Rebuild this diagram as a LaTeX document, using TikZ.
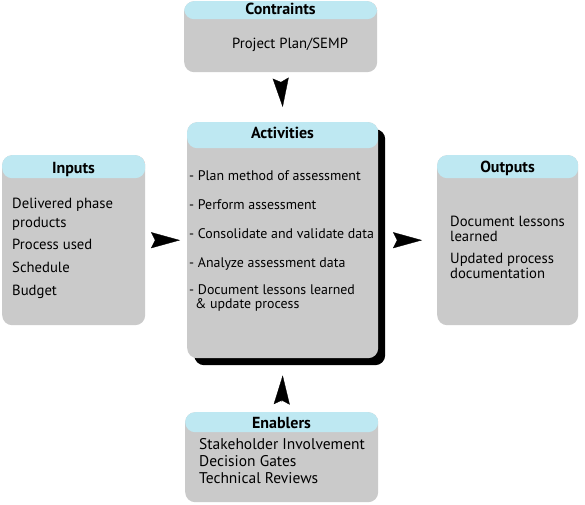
\documentclass[tikz,border=0pt]{standalone}
\usepackage{fontspec}
\setmainfont{PT Sans}
\usetikzlibrary{arrows.meta,shadows}
\definecolor{headc}{RGB}{190,232,242}
\definecolor{bodyc}{RGB}{202,202,202}
\begin{document}
\begin{tikzpicture}[x=1pt,y=-1pt,
  box/.style={rounded corners=10pt, fill=bodyc, draw=none, inner sep=0pt, anchor=north west,
    path picture={\fill[headc] (path picture bounding box.north west) rectangle ([yshift=-#1]path picture bounding box.north east);}},
  txt/.style={inner sep=0pt, anchor=base west, font=\fontsize{14.7}{16}\selectfont},
  acttxt/.style={txt, font=\fontsize{13.9}{16}\selectfont},
  enatxt/.style={txt, font=\fontsize{15.5}{17}\selectfont},
  head/.style={inner sep=0pt, anchor=base, font=\fontsize{16}{18}\selectfont\bfseries},
  tip/.style={line width=0.3pt, shorten <=4pt, -{Stealth[length=29pt,width=16pt,inset=4pt]}}
]
\useasboundingbox (0,0) rectangle (585,504);
% boxes
\node[box=18pt, minimum width=193pt, minimum height=71pt] (con) at (184,1) {};
\node[box=26pt, minimum width=191pt, minimum height=236pt,
  drop shadow={shadow xshift=7pt, shadow yshift=-7pt, fill=black, opacity=1}] (act) at (187,122) {};
\node[box=23pt, minimum width=143pt, minimum height=170pt] (inp) at (2,155) {};
\node[box=23pt, minimum width=141pt, minimum height=170pt] (out) at (437,155) {};
\node[box=20pt, minimum width=193pt, minimum height=90pt] (ena) at (185,412) {};
% headers
\node[head] (conh) at (280.5,14) {Contraints};
\node[head] (acth) at (282.5,138) {Activities};
\node[head] (inph) at (73.5,173) {Inputs};
\node[head] (outh) at (507.5,172) {Outputs};
\node[head] (enah) at (281.5,428) {Enablers};
% contents
\node[txt, anchor=base] (con1) at (290,48) {Project Plan/SEMP};
\node[acttxt] (act1) at (189,180) {- Plan method of assessment};
\node[acttxt] (act2) at (189,209) {- Perform assessment};
\node[acttxt] (act3) at (189,238) {- Consolidate and validate data};
\node[acttxt] (act4) at (189,267) {- Analyze assessment data};
\node[acttxt] (act5) at (189,294) {- Document lessons learned};
\node[acttxt] (act6) at (195,308) {\& update process};
\node[txt] (inp1) at (12,208) {Delivered phase};
\node[txt] (inp2) at (12,227) {products};
\node[txt] (inp3) at (12,249) {Process used};
\node[txt] (inp4) at (12,272) {Schedule};
\node[txt] (inp5) at (12,295) {Budget};
\node[txt] (out1) at (450,226) {Document lessons};
\node[txt] (out2) at (450,241) {learned};
\node[txt] (out3) at (450,263) {Updated process};
\node[txt] (out4) at (450,278) {documentation};
\node[enatxt] (ena1) at (199,449) {Stakeholder Involvement};
\node[enatxt] (ena2) at (199,466) {Decision Gates};
\node[enatxt] (ena3) at (199,483) {Technical Reviews};
% arrows
\draw[tip] ([yshift=-6pt]con.south) -- ([yshift=15pt]act.north);
\draw[tip] ([yshift=6pt]ena.north) -- ([yshift=-17pt]act.south);
\draw[tip] ([xshift=6pt]inp.east) -- ([xshift=-7pt]act.west);
\draw[tip] ([xshift=15pt]act.east) -- ([xshift=-15pt]out.west);
\end{tikzpicture}
\end{document}
